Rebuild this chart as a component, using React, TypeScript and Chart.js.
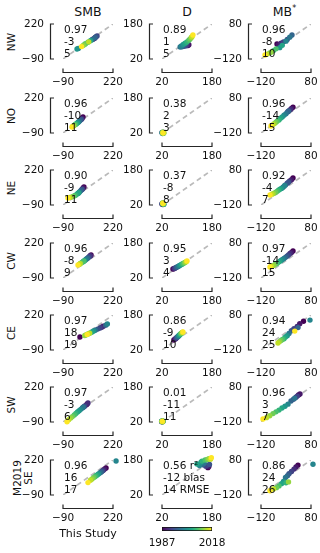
import React, { useEffect, useRef } from 'react';
import { Chart, registerables } from 'chart.js';
Chart.register(...registerables);

const YEARS = [1987, 1989, 1991, 1993, 1995, 1997, 1999, 2001, 2003, 2005, 2007, 2009, 2011, 2013, 2015, 2018];
const YEAR_MIN = 1987;
const YEAR_MAX = 2018;
const ROW_LABELS = ['NW', 'NO', 'NE', 'CW', 'CE', 'SW', 'M2019\nSE'];
const ROW_KEYS = ['NW', 'NO', 'NE', 'CW', 'CE', 'SW', 'SE'];
const COL_TITLES = ['SMB', 'D', 'MB'];
const SMB_TICKS = [-90, 220];
const D_TICKS = [20, 180];
const MB_TICKS = [-120, 80];

const NW_SMB_X = [95, 110, 105, 121, 115, 108, 90, 5, -3, 80, 45, 65, 50, 35, 70, 25];
const NW_SMB_Y = [85, 100, 92, 114, 108, 98, 80, 4, -1, 72, 40, 58, 45, 30, 62, 20];
const NW_D_X = [103, 106, 100, 96, 90, 84, 78, 82, 88, 94, 100, 106, 110, 114, 116, 119];
const NW_D_Y = [82, 85, 84, 80, 78, 76, 75, 80, 86, 92, 98, 106, 112, 118, 122, 130];
const NW_MB_X = [-56, -50, -40, -30, -15, 4, -5, -20, -45, -35, -70, -60, -85, -78, -95, -104];
const NW_MB_Y = [-34, -38, -30, -22, -8, 17, 5, -18, -55, -42, -72, -62, -85, -80, -92, -97];

const NO_SMB_X = [34, 28, 26, 20, 22, 14, 8, 4, 0, -5, -10, -14, -20, -25, -30, -34];
const NO_SMB_Y = [52, 40, 35, 28, 30, 18, 10, 5, 0, -5, -12, -15, -22, -28, -32, -37];
const NO_D_X = [22, 24, 21, 23, 25, 20, 22, 24, 23, 21, 25, 23, 24, 22, 26, 23];
const NO_D_Y = [20, 22, 21, 19, 21, 22, 18, 20, 23, 20, 19, 22, 21, 24, 21, 20];
const NO_MB_X = [8, 2, -2, -8, -14, -10, -20, -28, -35, -42, -48, -55, -60, -66, -72, -80];
const NO_MB_Y = [27, 20, 15, 8, 0, 4, -10, -18, -28, -36, -45, -52, -58, -66, -72, -80];

const NE_SMB_X = [40, 35, 30, 25, 28, 20, 12, 5, 0, 8, -10, -18, -28, -38, -48, -59];
const NE_SMB_Y = [69, 60, 52, 44, 48, 36, 25, 15, 10, 18, -2, -8, -14, -20, -24, -28];
const NE_D_X = [21, 23, 20, 24, 22, 25, 21, 23, 26, 22, 24, 25, 23, 22, 24, 23];
const NE_D_Y = [24, 22, 26, 25, 27, 23, 25, 27, 24, 28, 26, 25, 27, 29, 26, 28];
const NE_MB_X = [8, 2, -5, -15, -10, -22, -32, -26, -38, -44, -50, -56, -62, -70, -76, -84];
const NE_MB_Y = [34, 24, 18, 5, 10, -5, -18, -10, -25, -30, -36, -42, -48, -54, -58, -63];

const CW_SMB_X = [84, 78, 80, 72, 66, 62, 55, 48, 42, 36, 30, 40, 20, 12, 16, 3];
const CW_SMB_Y = [114, 105, 108, 98, 90, 85, 78, 70, 62, 56, 50, 60, 40, 32, 36, 25];
const CW_D_X = [55, 58, 60, 62, 66, 68, 72, 75, 78, 82, 85, 88, 92, 95, 98, 100];
const CW_D_Y = [61, 62, 64, 66, 68, 70, 73, 76, 78, 82, 84, 86, 90, 92, 95, 98];
const CW_MB_X = [8, 2, -4, -10, -16, -22, -28, -34, -40, -46, -52, -58, -64, -70, -78, -84];
const CW_MB_Y = [34, 26, 20, 12, 5, -2, -8, -14, -20, -26, -32, -38, -42, -48, -52, -57];

const CE_SMB_X = [15, 160, 150, 140, 125, 175, 110, 185, 100, 90, 80, 65, 55, 45, 75, 60];
const CE_SMB_Y = [25, 120, 112, 105, 95, 130, 85, 140, 78, 70, 62, 52, 45, 38, 58, 48];
const CE_D_X = [58, 62, 64, 66, 68, 70, 72, 74, 75, 77, 79, 80, 82, 84, 86, 87];
const CE_D_Y = [66, 70, 72, 75, 78, 80, 83, 85, 88, 90, 92, 95, 97, 99, 101, 102];
const CE_MB_X = [50, 35, 25, 12, 2, 28, -8, 76, -15, -22, -28, -34, -40, -46, -52, 15];
const CE_MB_Y = [44, 30, 15, 2, -10, 8, -25, 51, -38, -45, -55, -60, -66, -72, -80, -12];

const SW_SMB_X = [60, 55, 65, 45, 40, 30, 35, 20, 10, 0, -10, -20, -32, -42, -55, -65];
const SW_SMB_Y = [70, 62, 78, 52, 45, 35, 40, 22, 10, -2, -15, -28, -42, -55, -70, -88];
const SW_D_X = [20, 22, 19, 21, 23, 20, 22, 21, 20, 22, 19, 21, 23, 20, 22, 21];
const SW_D_Y = [22, 24, 21, 23, 22, 25, 21, 24, 23, 22, 24, 22, 25, 23, 21, 24];
const SW_MB_X = [30, 36, 20, 25, 10, 0, 15, -12, -24, -36, -48, -60, -72, -85, -98, -112];
const SW_MB_Y = [34, 40, 22, 28, 10, 0, 16, -18, -30, -40, -52, -62, -72, -84, -95, -103];

const SE_SMB_X = [177, 168, 160, 155, 150, 145, 138, 239, 130, 122, 115, 108, 100, 90, 80, 65];
const SE_SMB_Y = [150, 140, 130, 124, 118, 112, 104, 211, 96, 88, 80, 72, 64, 52, 40, 20];
const SE_D_X = [167, 170, 165, 160, 172, 150, 155, 140, 145, 132, 148, 158, 165, 170, 175, 178];
const SE_D_Y = [145, 150, 155, 152, 160, 158, 165, 155, 170, 162, 175, 180, 182, 186, 184, 190];
const SE_MB_X = [28, 20, 12, 2, -8, -14, -22, 88, -30, -38, -20, -48, -58, -10, -70, -84];
const SE_MB_Y = [51, 40, 28, 14, 2, -10, -20, 56, -42, -55, -50, -68, -78, -45, -86, -96];

// r², bias, RMSE per row (NW..SE)
const SMB_R2 = ['0.97', '0.96', '0.90', '0.96', '0.97', '0.97', '0.96'];
const SMB_BIAS = ['-3', '-10', '-9', '-8', '18', '-3', '16'];
const SMB_RMSE = ['5', '11', '11', '9', '19', '6', '17'];
const D_R2 = ['0.89', '0.38', '0.37', '0.95', '0.86', '0.01', '0.56'];
const D_BIAS = ['1', '2', '-8', '3', '-9', '-11', '-12'];
const D_RMSE = ['5', '3', '8', '4', '10', '11', '14'];
const MB_R2 = ['0.96', '0.96', '0.92', '0.97', '0.94', '0.96', '0.86'];
const MB_BIAS = ['-8', '-14', '-4', '-14', '24', '3', '24'];
const MB_RMSE = ['10', '15', '7', '15', '25', '7', '26'];
const STAT_NAMES = [' r²', ' bias', ' RMSE'];

const SERIES: Record<string, number[][]> = {
  NW: [NW_SMB_X, NW_SMB_Y, NW_D_X, NW_D_Y, NW_MB_X, NW_MB_Y],
  NO: [NO_SMB_X, NO_SMB_Y, NO_D_X, NO_D_Y, NO_MB_X, NO_MB_Y],
  NE: [NE_SMB_X, NE_SMB_Y, NE_D_X, NE_D_Y, NE_MB_X, NE_MB_Y],
  CW: [CW_SMB_X, CW_SMB_Y, CW_D_X, CW_D_Y, CW_MB_X, CW_MB_Y],
  CE: [CE_SMB_X, CE_SMB_Y, CE_D_X, CE_D_Y, CE_MB_X, CE_MB_Y],
  SW: [SW_SMB_X, SW_SMB_Y, SW_D_X, SW_D_Y, SW_MB_X, SW_MB_Y],
  SE: [SE_SMB_X, SE_SMB_Y, SE_D_X, SE_D_Y, SE_MB_X, SE_MB_Y],
};

const VIRIDIS = ['#440154', '#482475', '#414487', '#355f8d', '#2a788e', '#21918c', '#22a884', '#44bf70', '#7ad151', '#bddf26', '#fde725'];
function hexToRgb(h: string) {
  return [parseInt(h.slice(1, 3), 16), parseInt(h.slice(3, 5), 16), parseInt(h.slice(5, 7), 16)];
}
function viridis(t: number) {
  const c = Math.max(0, Math.min(1, t)) * (VIRIDIS.length - 1);
  const i = Math.min(Math.floor(c), VIRIDIS.length - 2);
  const f = c - i;
  const a = hexToRgb(VIRIDIS[i]);
  const b = hexToRgb(VIRIDIS[i + 1]);
  const m = a.map((v, k) => Math.round(v + (b[k] - v) * f));
  return `rgb(${m[0]},${m[1]},${m[2]})`;
}

const FONT = 'DejaVu Sans';
const COL_LEFT = [63, 162, 261];
const ROW_TOP = [24, 98, 170, 243, 315, 387, 460];
const PW = 50;
const PH = 35;
const CAN_L = 60;
const CAN_T = 10;
const CAN_R = 14;
const CAN_B = 32;
const INK = '#262626';

const fmt = (v: number) => String(v).replace('-', '\u2212');

function zeroPad(s: any) {
  s.paddingLeft = 0;
  s.paddingRight = 0;
  s.paddingTop = 0;
  s.paddingBottom = 0;
}

function makeDeco(lines: string[]) {
  return {
    id: 'deco',
    afterDatasetsDraw(chart: any) {
      const { ctx, chartArea: a, scales } = chart;
      const x = scales.x;
      const y = scales.y;
      ctx.save();
      ctx.strokeStyle = INK;
      ctx.lineWidth = 1.2;
      const sx = Math.round(a.left - 13) + 0.5;
      const yTop = y.getPixelForValue(y.max);
      const yBot = y.getPixelForValue(y.min);
      ctx.beginPath();
      ctx.moveTo(sx + 3.5, yTop);
      ctx.lineTo(sx, yTop);
      ctx.lineTo(sx, yBot);
      ctx.lineTo(sx + 3.5, yBot);
      const sy = Math.round(a.bottom + 13) + 0.5;
      const xl = x.getPixelForValue(x.min);
      const xr = x.getPixelForValue(x.max);
      ctx.moveTo(xl, sy - 4);
      ctx.lineTo(xl, sy);
      ctx.lineTo(xr, sy);
      ctx.lineTo(xr, sy - 4);
      ctx.stroke();
      ctx.fillStyle = '#111';
      ctx.font = `10.5px "${FONT}"`;
      ctx.textAlign = 'left';
      ctx.textBaseline = 'alphabetic';
      lines.forEach((t, i) => ctx.fillText(t, a.left + 1, a.top + 9 + 12 * i));
      ctx.restore();
    },
  };
}

function axisOpts(ticks: number[], isX: boolean) {
  const [mn, mx] = ticks;
  return {
    type: 'linear',
    min: mn,
    max: mx,
    afterFit(s: any) {
      if (isX) s.height = CAN_B;
      else s.width = CAN_L;
      zeroPad(s);
    },
    afterBuildTicks(s: any) {
      s.ticks = [{ value: mn }, { value: mx }];
    },
    ticks: {
      padding: isX ? 16.5 : 19,
      autoSkip: false,
      maxRotation: 0,
      color: '#111',
      font: { family: FONT, size: 10.5 },
      callback: (v: number) => fmt(v),
    },
    grid: { display: false, drawTicks: false },
    border: { display: false },
  };
}

function Panel({ row, col }: { row: number; col: number }) {
  const ref = useRef<HTMLCanvasElement>(null);
  useEffect(() => {
    const key = ROW_KEYS[row];
    const xs = SERIES[key][col * 2];
    const ys = SERIES[key][col * 2 + 1];
    const ticks = [SMB_TICKS, D_TICKS, MB_TICKS][col];
    const stats = [
      [SMB_R2, SMB_BIAS, SMB_RMSE],
      [D_R2, D_BIAS, D_RMSE],
      [MB_R2, MB_BIAS, MB_RMSE],
    ][col].map((arr) => arr[row]);
    const labelled = row === 6 && col === 1;
    const lines = stats.map((s, i) => (labelled ? s + STAT_NAMES[i] : s));
    const chart = new Chart(ref.current as HTMLCanvasElement, {
      type: 'scatter',
      data: {
        datasets: [
          {
            data: [
              { x: ticks[0], y: ticks[0] },
              { x: ticks[1], y: ticks[1] },
            ],
            showLine: true,
            borderColor: 'rgba(178,178,178,0.9)',
            borderDash: [5, 3.5],
            borderWidth: 1.8,
            pointRadius: 0,
            order: 2,
          },
          {
            data: xs.map((x, i) => ({ x, y: ys[i] })),
            pointBackgroundColor: YEARS.map((yr) => viridis((yr - YEAR_MIN) / (YEAR_MAX - YEAR_MIN))),
            pointBorderWidth: 0,
            pointRadius: 2.7,
            order: 1,
            clip: false,
          },
        ],
      } as any,
      options: {
        animation: false,
        responsive: false,
        devicePixelRatio: 1,
        events: [],
        layout: { autoPadding: false, padding: { left: 0, top: CAN_T, right: CAN_R, bottom: 0 } },
        plugins: { legend: { display: false }, tooltip: { enabled: false } },
        scales: { x: axisOpts(ticks, true), y: axisOpts(ticks, false) } as any,
      },
      plugins: [makeDeco(lines)],
    });
    return () => chart.destroy();
  }, [row, col]);
  return (
    <canvas
      ref={ref}
      width={CAN_L + PW + CAN_R}
      height={CAN_T + PH + CAN_B}
      style={{
        position: 'absolute',
        left: COL_LEFT[col] - CAN_L,
        top: ROW_TOP[row] - CAN_T,
        width: CAN_L + PW + CAN_R,
        height: CAN_T + PH + CAN_B,
      }}
    />
  );
}

const CBAR_TICKS = [YEAR_MIN, YEAR_MAX];

function ColorBar() {
  const ref = useRef<HTMLCanvasElement>(null);
  useEffect(() => {
    const chart = new Chart(ref.current as HTMLCanvasElement, {
      type: 'bar',
      data: {
        labels: [''],
        datasets: [
          {
            data: [[YEAR_MIN, YEAR_MAX]],
            backgroundColor: (c: any) => {
              const ca = c.chart.chartArea;
              if (!ca) return VIRIDIS[5];
              const g = c.chart.ctx.createLinearGradient(ca.left, 0, ca.right, 0);
              VIRIDIS.forEach((col, i) => g.addColorStop(i / (VIRIDIS.length - 1), col));
              return g;
            },
            borderColor: '#111',
            borderWidth: 1,
            borderSkipped: false,
            barPercentage: 1,
            categoryPercentage: 1,
          },
        ],
      } as any,
      options: {
        indexAxis: 'y',
        animation: false,
        responsive: false,
        devicePixelRatio: 1,
        events: [],
        layout: { autoPadding: false, padding: { left: 30, right: 30, top: 10, bottom: 0 } },
        plugins: { legend: { display: false }, tooltip: { enabled: false } },
        scales: {
          y: { display: false },
          x: {
            type: 'linear',
            min: CBAR_TICKS[0],
            max: CBAR_TICKS[1],
            afterFit(s: any) {
              s.height = 22;
              zeroPad(s);
            },
            afterBuildTicks(s: any) {
              s.ticks = CBAR_TICKS.map((v) => ({ value: v }));
            },
            ticks: {
              padding: 6,
              autoSkip: false,
              maxRotation: 0,
              color: '#111',
              font: { family: FONT, size: 10.5 },
              callback: (v: number) => String(v),
            },
            grid: { display: false, drawTicks: false },
            border: { display: false },
          },
        } as any,
      },
    });
    return () => chart.destroy();
  }, []);
  return (
    <canvas ref={ref} width={110} height={36} style={{ position: 'absolute', left: 132, top: 517, width: 110, height: 36 }} />
  );
}

const textTop = (baseline: number, size: number) => baseline - 0.846 * size;

export default function App() {
  const cells = [];
  for (let r = 0; r < ROW_KEYS.length; r++) for (let c = 0; c < 3; c++) cells.push(<Panel key={`${r}-${c}`} row={r} col={c} />);
  return (
    <div
      style={{
        position: 'absolute',
        left: 0,
        top: 0,
        width: 320,
        height: 553,
        background: '#fff',
        fontFamily: FONT,
        color: '#111',
        overflow: 'hidden',
      }}
    >
      {COL_TITLES.map((t, c) => (
        <div
          key={t}
          style={{
            position: 'absolute',
            left: COL_LEFT[c] + PW / 2 + (c === 2 ? -1.5 : 0),
            top: textTop(17, 12.5),
            transform: 'translateX(-50%)',
            fontSize: 12.5,
            lineHeight: '12.5px',
            whiteSpace: 'nowrap',
          }}
        >
          {t}
          {c === 2 ? <span style={{ fontSize: 8, position: 'relative', top: -5 }}>*</span> : null}
        </div>
      ))}
      {ROW_LABELS.map((t, r) => (
        <div
          key={t}
          style={{
            position: 'absolute',
            left: r === 6 ? 22.5 : 10.5,
            top: ROW_TOP[r] + PH / 2,
            transform: 'translate(-50%,-50%) rotate(-90deg)',
            fontSize: 10.5,
            lineHeight: '11px',
            whiteSpace: 'pre',
            textAlign: 'center',
          }}
        >
          {t}
        </div>
      ))}
      {cells}
      <ColorBar />
      <div
        style={{
          position: 'absolute',
          left: 88,
          top: textTop(537, 11),
          transform: 'translateX(-50%)',
          fontSize: 11,
          lineHeight: '11px',
          whiteSpace: 'nowrap',
        }}
      >
        This Study
      </div>
    </div>
  );
}
